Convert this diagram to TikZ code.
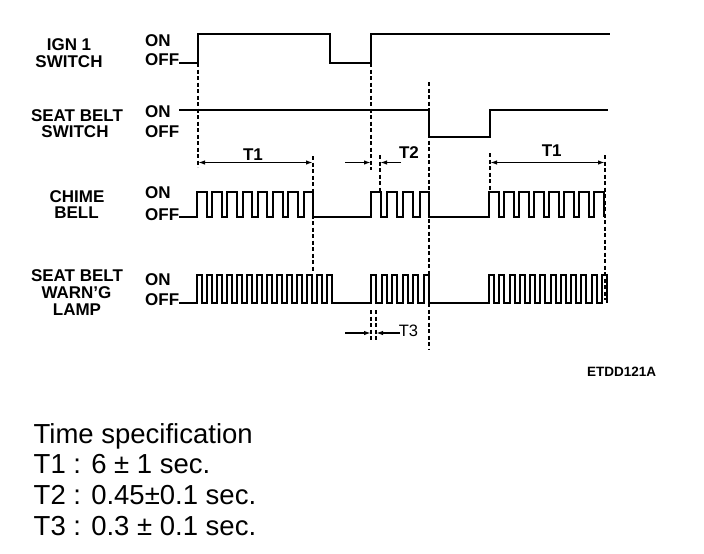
\documentclass[tikz,border=0pt]{standalone}
\usepackage{fontspec}
\setmainfont{Liberation Sans}
\usetikzlibrary{arrows.meta}
\begin{document}
\begin{tikzpicture}[x=1pt,y=-1pt,
  wave/.style={line width=2pt, line join=miter, line cap=butt},
  guide/.style={line width=1.3pt, dash pattern=on 4pt off 2.5pt},
  dimline/.style={line width=1.4pt},
  tip/.style={-{Latex[length=7pt,width=4.5pt]}},
  tiptwo/.style={{Latex[length=7pt,width=4.5pt]}-{Latex[length=7pt,width=4.5pt]}},
  lbl/.style={font=\bfseries\fontsize{17}{17}\selectfont, inner sep=0pt, anchor=base},
  onoff/.style={lbl, anchor=base west},
  tlbl/.style={font=\bfseries\fontsize{17}{17}\selectfont, inner sep=0pt, anchor=base},
  spec/.style={font=\fontsize{27.5}{27.5}\selectfont, inner sep=0pt, anchor=base west}
]
\useasboundingbox (0,0) rectangle (704,554);
\fill[white] (0,0) rectangle (704,554);

% ---------- signal names ----------
\node[lbl] (ign1) at (69,50) {IGN 1};
\node[lbl] (ign2) at (69,67) {SWITCH};
\node[lbl] (sb1) at (77,121) {SEAT BELT};
\node[lbl] (sb2) at (75,137.5) {SWITCH};
\node[lbl] (ch1) at (77,202) {CHIME};
\node[lbl] (ch2) at (76.5,218.5) {BELL};
\node[lbl] (lp1) at (77,281.5) {SEAT BELT};
\node[lbl] (lp2) at (76.5,298) {WARN'G};
\node[lbl] (lp3) at (77,315) {LAMP};

\node[onoff] (ignon) at (145,46) {ON};
\node[onoff] (ignoff) at (145,65) {OFF};
\node[onoff] (sbon) at (145,117) {ON};
\node[onoff] (sboff) at (145,137.5) {OFF};
\node[onoff] (chon) at (145,198) {ON};
\node[onoff] (choff) at (145,220) {OFF};
\node[onoff] (lpon) at (145,285) {ON};
\node[onoff] (lpoff) at (145,305) {OFF};

% ---------- waveforms ----------
% IGN 1 switch
\draw[wave] (179,62.7) -- (198,62.7) -- (198,33.5) -- (330,33.5) -- (330,62.7)
  -- (371,62.7) -- (371,33.5) -- (610,33.5);
% Seat belt switch
\draw[wave] (179,109.5) -- (429,109.5) -- (429,136.7) -- (490,136.7) -- (490,109.5) -- (608,109.5);
% Chime bell
\draw[wave] (179,217)
  foreach \k in {0,...,7}{ -- ({197+\k*15.214},217) -- ({197+\k*15.214},191.5) -- ({206.5+\k*15.214},191.5) -- ({206.5+\k*15.214},217) }
  foreach \k in {0,...,3}{ -- ({371+\k*16.17},217) -- ({371+\k*16.17},191.5) -- ({380.5+\k*16.17},191.5) -- ({380.5+\k*16.17},217) }
  foreach \k in {0,...,7}{ -- ({489+\k*15.07},217) -- ({489+\k*15.07},191.5) -- ({498.5+\k*15.07},191.5) -- ({498.5+\k*15.07},217) };
% Seat belt warning lamp
\draw[wave] (179,302.5)
  foreach \k in {0,...,13}{ -- ({197+\k*10},302.5) -- ({197+\k*10},275) -- ({202+\k*10},275) -- ({202+\k*10},302.5) }
  foreach \k in {0,...,5}{ -- ({371+\k*10.6},302.5) -- ({371+\k*10.6},275) -- ({376+\k*10.6},275) -- ({376+\k*10.6},302.5) }
  foreach \k in {0,...,11}{ -- ({489+\k*10.27},302.5) -- ({489+\k*10.27},275) -- ({494+\k*10.27},275) -- ({494+\k*10.27},302.5) };

% ---------- dashed guide lines ----------
\draw[guide] (198,63) -- (198,167);
\draw[guide] (313,156) -- (313,272);
\draw[guide] (371,63) -- (371,170);
\draw[guide] (380,155) -- (380,192);
\draw[guide] (429,82) -- (429,350);
\draw[guide] (490,153) -- (490,192);
\draw[guide] (605,155) -- (605,300);
\draw[guide] (371,310) -- (371,340);
\draw[guide] (376,310) -- (376,340);

% ---------- dimension arrows ----------
\coordinate (t1aL) at (198,162.5);
\coordinate (t1aR) at (313,162.5);
\coordinate (t1bL) at (490,162.5);
\coordinate (t1bR) at (605,162.5);
\coordinate (t2Ls) at (345,162.5);
\coordinate (t2Le) at (371,162.5);
\coordinate (t2Rs) at (401,162.5);
\coordinate (t2Re) at (380,162.5);
\coordinate (t3Ls) at (345,333);
\coordinate (t3Le) at (371,333);
\coordinate (t3Rs) at (400,333);
\coordinate (t3Re) at (376,333);

\draw[dimline, tiptwo] (t1aL) -- (t1aR);
\draw[dimline, tiptwo] (t1bL) -- (t1bR);
\draw[dimline, tip] (t2Ls) -- (t2Le);
\draw[dimline, tip] (t2Rs) -- (t2Re);
\draw[dimline, tip] (t3Ls) -- (t3Le);
\draw[dimline, tip] (t3Rs) -- (t3Re);

\node[tlbl] (t1a) at (253,160) {T1};
\node[tlbl] (t1b) at (551.7,156.7) {T1};
\node[tlbl] (t2) at (409,158.3) {T2};
\node[tlbl, font=\fontsize{16.5}{16.5}\selectfont] (t3) at (408.5,336.7) {T3};

% ---------- figure code ----------
\node[font=\bfseries\fontsize{13.5}{13.5}\selectfont, inner sep=0pt, anchor=base west] (code) at (587,376) {ETDD121A};

% ---------- time specification ----------
\node[spec] (sp0) at (33.5,443.3) {Time specification};
\node[spec] (sp1) at (33.5,473.3) {T1 : 6 ± 1 sec.};
\node[spec] (sp2) at (33.5,504.3) {T2 : 0.45±0.1 sec.};
\node[spec] (sp3) at (33.5,535) {T3 : 0.3 ± 0.1 sec.};
\end{tikzpicture}
\end{document}
